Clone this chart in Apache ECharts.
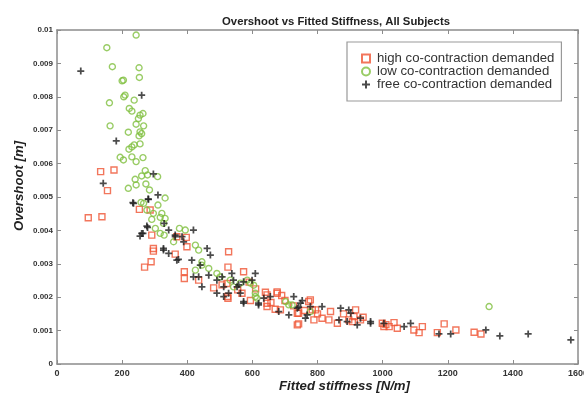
<!DOCTYPE html>
<html>
<head>
<meta charset="utf-8">
<script src="https://cdn.jsdelivr.net/npm/echarts@6/dist/echarts.min.js"></script>
<style>
  html, body { margin: 0; padding: 0; background: #fff; }
  #main { width: 584px; height: 394px; }
</style>
</head>
<body>
<div id="main"></div>
<script>
// Fitted stiffness [N/m], overshoot [m]
var highData = [
  [96,0.00438],[138,0.00441],[134,0.00576],[175,0.00581],[155,0.00519],
  [253,0.00463],[286,0.00461],[291,0.00386],[368,0.00381],[397,0.00379],[296,0.00346],
  [296,0.00338],[289,0.00306],[269,0.0029],[363,0.00329],[399,0.00351],[391,0.00276],
  [391,0.00256],[435,0.00251],[481,0.00228],[527,0.00336],[525,0.0029],[573,0.00276],
  [525,0.00197],[568,0.00212],[594,0.0019],[645,0.00207],[645,0.00172],[676,0.00212],
  [657,0.00184],[686,0.00162],[727,0.00174],[738,0.00117],[738,0.00152],[507,0.00237],
  [522,0.00241],[524,0.00202],[640,0.00215],[676,0.00216],[670,0.00164],[645,0.00182],
  [742,0.0012],[778,0.00192],[794,0.00162],[789,0.00132],[814,0.00137],[835,0.00132],
  [840,0.00157],[861,0.00122],[917,0.00162],[907,0.00127],[999,0.00122],[690,0.00205],
  [742,0.00152],[773,0.00187],[784,0.00162],[912,0.00142],[896,0.00132],[932,0.00132],
  [1004,0.00112],[1035,0.00124],[1020,0.00112],[1045,0.00107],[1096,0.00102],[1112,0.00094],
  [1122,0.00112],[1168,0.00094],[1189,0.0012],[1225,0.00102],[1281,0.00095],[1302,0.0009],
  [555,0.00222],[590,0.00245],[610,0.00225],[700,0.0019],[760,0.0016],[800,0.0015],
  [880,0.0015],[940,0.0014],[1010,0.00118]
];
var lowData = [
  [243,0.00985],[153,0.00947],[170,0.0089],[252,0.00887],[253,0.00858],[204,0.0085],
  [200,0.00848],[209,0.00805],[205,0.008],[237,0.0079],[161,0.00782],[222,0.00765],
  [230,0.00757],[255,0.00745],[264,0.0075],[250,0.00735],[243,0.00718],[266,0.00713],
  [163,0.00713],[219,0.00694],[255,0.00695],[260,0.0069],[252,0.00683],[237,0.00656],
  [255,0.00659],[230,0.0065],[221,0.00643],[194,0.00619],[204,0.00611],[230,0.0062],
  [243,0.00606],[264,0.00618],[271,0.00579],[260,0.00563],[278,0.00566],[309,0.00561],
  [240,0.00553],[219,0.00526],[243,0.00536],[273,0.00539],[284,0.00521],[332,0.00497],
  [258,0.00484],[276,0.00461],[310,0.00476],[291,0.00433],[317,0.00439],[327,0.00421],
  [302,0.00406],[317,0.00391],[329,0.00386],[376,0.00406],[394,0.00401],[266,0.00481],
  [296,0.00451],[322,0.00451],[332,0.00436],[358,0.00366],[425,0.00356],[435,0.00341],
  [445,0.00306],[445,0.00296],[425,0.00281],[466,0.00286],[491,0.00271],[501,0.00261],
  [532,0.00251],[542,0.00231],[563,0.00242],[584,0.00251],[594,0.00242],[604,0.00236],
  [609,0.00212],[609,0.00202],[614,0.00197],[702,0.00187],[712,0.00177],[722,0.00177],
  [778,0.00157],[1327,0.00172]
];
var freeData = [
  [73,0.00877],[260,0.00805],[182,0.00668],[296,0.00569],[142,0.00541],[310,0.00506],
  [280,0.00494],[233,0.00483],[281,0.00493],[329,0.00421],[278,0.00409],[264,0.00391],
  [255,0.00383],[343,0.00401],[363,0.00381],[327,0.00346],[235,0.00481],[260,0.00391],
  [276,0.00413],[327,0.00341],[343,0.00331],[368,0.00311],[363,0.00386],[384,0.00381],
  [389,0.00366],[414,0.00311],[419,0.00401],[461,0.00346],[471,0.00326],[440,0.00296],
  [419,0.00261],[435,0.00261],[445,0.00231],[466,0.00266],[491,0.00251],[507,0.00261],
  [512,0.00231],[537,0.00271],[542,0.00251],[553,0.00231],[563,0.00212],[573,0.00187],
  [609,0.00271],[599,0.00251],[635,0.00197],[655,0.00202],[619,0.00177],[681,0.00157],
  [712,0.00147],[727,0.00202],[738,0.00167],[527,0.00212],[491,0.00212],[373,0.00313],
  [573,0.00246],[558,0.00237],[512,0.00202],[573,0.00182],[619,0.00182],[748,0.00182],
  [871,0.00167],[866,0.00132],[902,0.00152],[922,0.00117],[963,0.00127],[753,0.0019],
  [742,0.0017],[768,0.00147],[763,0.00137],[778,0.00172],[814,0.00172],[896,0.00162],
  [891,0.00127],[932,0.00137],[963,0.00122],[1004,0.00122],[1066,0.00112],[1086,0.00122],
  [1173,0.0009],[1209,0.0009],[1317,0.00102],[1360,0.00084],[1447,0.0009],[1578,0.00072]
];
var seriesNames = ['high co-contraction demanded', 'low co-contraction demanded', 'free co-contraction demanded'];

var plusPath = 'path://M3,0H5V3H8V5H5V8H3V5H0V3H3Z';
var font = 'Liberation Sans';
var axisGray = '#8c8c8c';

var chart = echarts.init(document.getElementById('main'));

// top / right axes only draw the box and the inner ticks
function frameAxis(pos, isX) {
  return {
    type: 'value',
    position: pos,
    min: 0,
    max: isX ? 1600 : 0.01,
    interval: isX ? 200 : 0.001,
    axisLine: { show: true, onZero: false, lineStyle: { color: axisGray, width: 1.5 } },
    axisTick: { show: true, inside: true, length: 4, lineStyle: { color: axisGray } },
    axisLabel: { show: false },
    splitLine: { show: false }
  };
}

var option = {
  animation: false,
  backgroundColor: '#fff',
  title: {
    text: 'Overshoot vs Fitted Stiffness, All Subjects',
    left: 331, textAlign: 'center', top: 11,
    textStyle: { fontFamily: font, fontSize: 11.3, fontWeight: 'bold', color: '#222' }
  },
  legend: {
    data: seriesNames,
    orient: 'vertical',
    left: 347, top: 42,
    padding: [10, 7, 10, 14],
    itemGap: 0,
    itemWidth: 8, itemHeight: 8,
    backgroundColor: '#fff',
    borderColor: '#999', borderWidth: 1.2,
    textStyle: { fontFamily: font, fontSize: 13.2, lineHeight: 11, color: '#333', padding: [0, 0, 0, 2] }
  },
  grid: { left: 57, right: 6, top: 30, bottom: 30, outerBoundsMode: 'none' },
  xAxis: [{
    type: 'value', position: 'bottom',
    min: 0, max: 1600, interval: 200,
    name: 'Fitted stiffness [N/m]', nameLocation: 'middle', nameGap: 16, nameMoveOverlap: false,
    nameTextStyle: { fontFamily: font, fontSize: 13.2, fontWeight: 'bold', fontStyle: 'italic', color: '#222', padding: [0, 0, 0, 54] },
    axisLine: { onZero: false, lineStyle: { color: axisGray, width: 1.5 } },
    axisTick: { inside: true, length: 4, lineStyle: { color: axisGray } },
    axisLabel: { fontFamily: font, fontSize: 9, fontWeight: 'bold', color: '#333', margin: 5, formatter: function (v) { return String(v); } },
    splitLine: { show: false }
  }, frameAxis('top', true)],
  yAxis: [{
    type: 'value', position: 'left',
    min: 0, max: 0.01, interval: 0.001,
    name: 'Overshoot [m]', nameLocation: 'middle', nameGap: 31, nameMoveOverlap: false,
    nameTextStyle: { fontFamily: font, fontSize: 13.2, fontWeight: 'bold', fontStyle: 'italic', color: '#222', padding: [0, 0, 0, 22] },
    axisLine: { onZero: false, lineStyle: { color: axisGray, width: 1.5 } },
    axisTick: { inside: true, length: 4, lineStyle: { color: axisGray } },
    axisLabel: { fontFamily: font, fontSize: 8, fontWeight: 'bold', color: '#333', margin: 4 },
    splitLine: { show: false }
  }, frameAxis('right', false)],
  series: [{
    name: seriesNames[0], type: 'scatter', data: highData,
    symbol: 'rect', symbolSize: 6,
    itemStyle: { color: 'rgba(0,0,0,0)', borderColor: '#ef5433', borderWidth: 1.4 }
  }, {
    name: seriesNames[1], type: 'scatter', data: lowData,
    symbol: 'circle', symbolSize: 6,
    itemStyle: { color: 'rgba(0,0,0,0)', borderColor: '#7fbf3f', borderWidth: 1.4 }
  }, {
    name: seriesNames[2], type: 'scatter', data: freeData,
    symbol: plusPath, symbolSize: 7,
    itemStyle: { color: '#1e1e1e' }
  }]
};
chart.setOption(option);
</script>
</body>
</html>
